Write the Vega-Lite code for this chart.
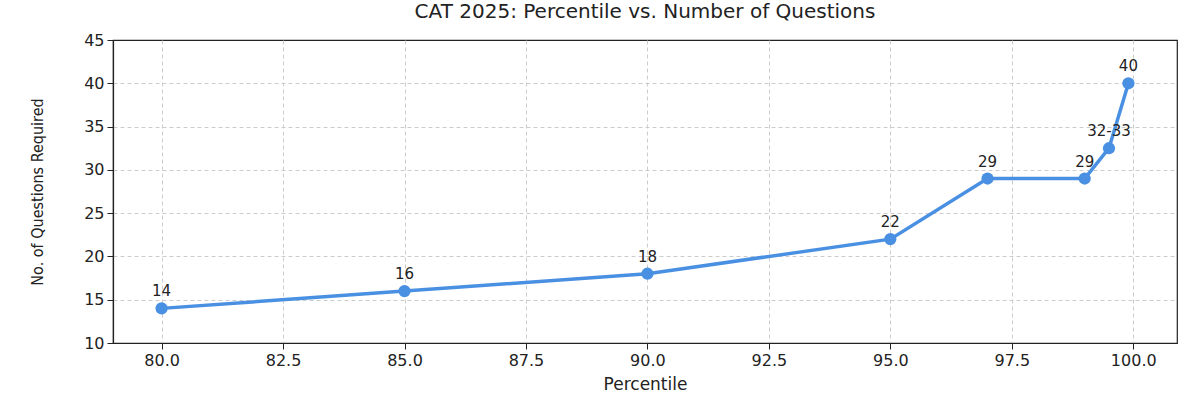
{
  "$schema": "https://vega.github.io/schema/vega-lite/v6.json",
  "autosize": {"type": "none"},
  "width": 1064,
  "height": 303,
  "padding": {"left": 113, "top": 40, "right": 23, "bottom": 57},
  "title": {"text": "CAT 2025: Percentile vs. Number of Questions", "font": "DejaVu Sans", "fontSize": 20, "fontWeight": "normal", "color": "#222222", "offset": 10},
  "config": {
    "view": {"stroke": "#222222", "strokeWidth": 1.2},
    "axis": {
      "labelFont": "DejaVu Sans", "labelFontSize": 16, "labelColor": "#222222",
      "titleFont": "DejaVu Sans", "titleFontSize": 17, "titleFontWeight": "normal", "titleColor": "#222222",
      "grid": true, "gridDash": [4, 3], "gridColor": "#cccccc", "gridWidth": 1,
      "tickColor": "#222222", "tickSize": 6, "domain": true, "domainColor": "#222222", "domainWidth": 1.2
    }
  },
  "data": {"values": [
    {"percentile": 80, "questions": 14, "label": "14"},
    {"percentile": 85, "questions": 16, "label": "16"},
    {"percentile": 90, "questions": 18, "label": "18"},
    {"percentile": 95, "questions": 22, "label": "22"},
    {"percentile": 97, "questions": 29, "label": "29"},
    {"percentile": 99, "questions": 29, "label": "29"},
    {"percentile": 99.5, "questions": 32.5, "label": "32-33"},
    {"percentile": 99.9, "questions": 40, "label": "40"}
  ]},
  "encoding": {
    "x": {"field": "percentile", "type": "quantitative", "title": "Percentile",
      "scale": {"domain": [79.0, 100.9], "nice": false, "zero": false},
      "axis": {"values": [80, 82.5, 85, 87.5, 90, 92.5, 95, 97.5, 100], "format": ".1f", "labelPadding": 3, "titlePadding": 8}},
    "y": {"field": "questions", "type": "quantitative", "title": "No. of Questions Required",
      "scale": {"domain": [10, 45], "nice": false, "zero": false},
      "axis": {"values": [10, 15, 20, 25, 30, 35, 40, 45], "labelPadding": 3, "titlePadding": 38,
        "titleFont": "DejaVu Sans Condensed", "titleFontSize": 16,
        "gridOpacity": {"condition": {"test": "datum.value == 45 || datum.value == 10", "value": 0}, "value": 1}}}
  },
  "layer": [
    {"mark": {"type": "line", "color": "#4a90e2", "strokeWidth": 3.5}},
    {"mark": {"type": "point", "filled": true, "color": "#4a90e2", "size": 150, "opacity": 1}},
    {"mark": {"type": "text", "dy": -17, "font": "DejaVu Sans", "fontSize": 15, "color": "#222222"},
      "encoding": {"text": {"field": "label"}}}
  ]
}
